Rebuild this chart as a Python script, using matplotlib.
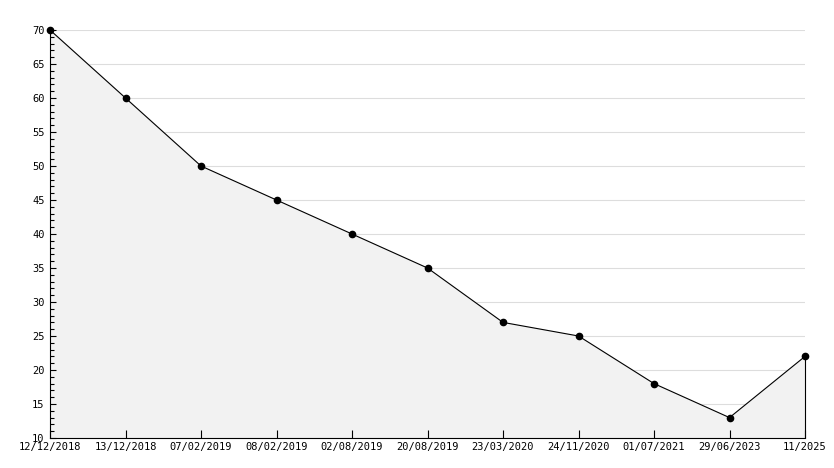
import matplotlib.pyplot as plt
from matplotlib.ticker import MultipleLocator

dates = ["12/12/2018", "13/12/2018", "07/02/2019", "08/02/2019", "02/08/2019",
         "20/08/2019", "23/03/2020", "24/11/2020", "01/07/2021", "29/06/2023", "11/2025"]
values = [70, 60, 50, 45, 40, 35, 27, 25, 18, 13, 22]

plt.rc('font', family='DejaVu Sans Mono', size=7.5)
fig = plt.figure(figsize=(8.34, 4.68), dpi=100)
ax = fig.add_axes([50 / 834, 1 - 438 / 468, 755 / 834, 408 / 468])

x = list(range(len(dates)))
ax.set_xlim(0, len(dates) - 1)
ax.set_ylim(10, 70)
ax.yaxis.set_major_locator(MultipleLocator(5))
ax.yaxis.set_minor_locator(MultipleLocator(1))

# grid under the fill, ticks above it
for yv in ax.get_yticks():
    if 10 < yv <= 70:
        ax.axhline(yv, color="#dddddd", linewidth=0.8, zorder=0.2)

ax.fill_between(x, values, 10, color="#f2f2f2", zorder=0.3)
ax.plot(x, values, color="black", linewidth=0.8, marker="o", markersize=4.5,
        zorder=3, clip_on=False)
ax.vlines(x[-1], 10, values[-1], color="black", linewidth=0.8, zorder=2, clip_on=False)

ax.set_xticks(x)
ax.set_xticklabels(dates)
ax.tick_params(axis="x", direction="in", length=6, width=0.8, pad=3)
ax.tick_params(axis="y", which="major", direction="in", length=4, width=0.8, pad=4)
ax.tick_params(axis="y", which="minor", direction="in", length=3, width=0.8)

for side in ["top", "right"]:
    ax.spines[side].set_visible(False)
for side in ["left", "bottom"]:
    ax.spines[side].set_linewidth(0.8)

fig.savefig("out.png", dpi=100)
